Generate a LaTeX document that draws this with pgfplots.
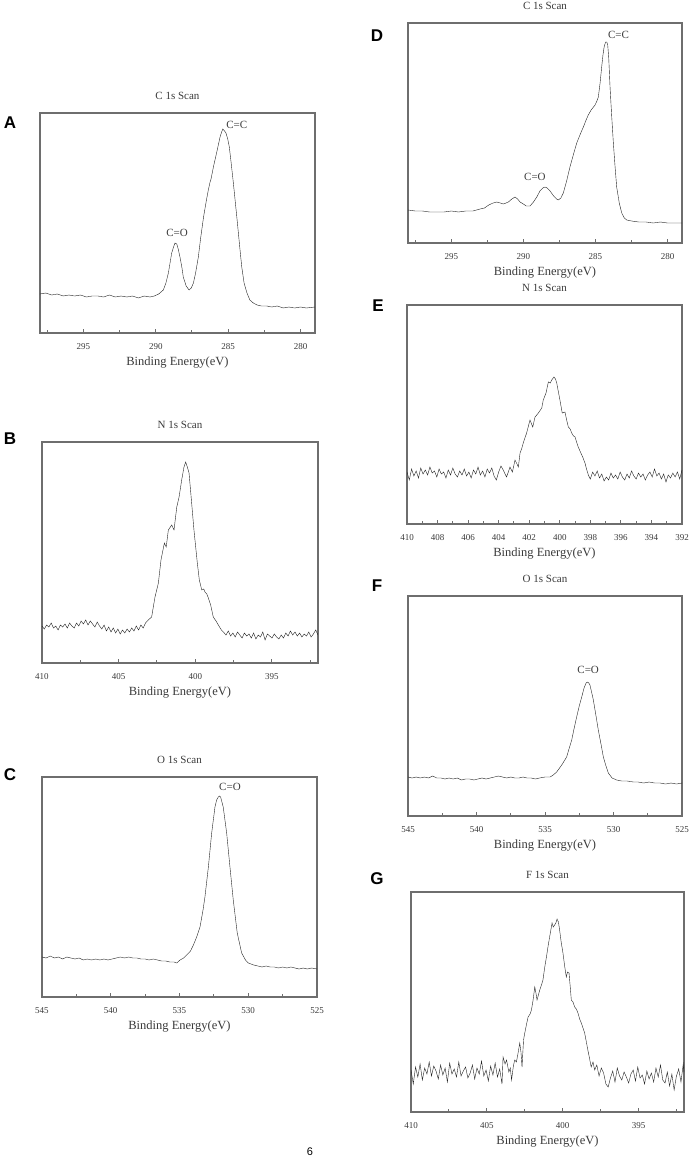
\documentclass[border=0pt]{standalone}
\usepackage{pgfplots}
\pgfplotsset{compat=1.18}
\usepackage{fontspec}
\setmainfont{Liberation Serif}
\newfontfamily\arial{Liberation Sans}
\definecolor{framegray}{HTML}{6E6E6E}
\definecolor{curve}{HTML}{222222}
\definecolor{textgray}{HTML}{3A3A3A}
\pgfplotsset{
  xps/.style={
    scale only axis, x dir=reverse, ymin=0, ytick=\empty,
    anchor=south west,
    axis line style={draw=framegray, line width=1.3pt},
    xtick pos=bottom, xtick align=inside,
    major tick length=4.5pt, minor tick length=3.5pt,
    every tick/.style={draw=framegray, line width=1pt},
    /pgf/number format/assume math mode=true,
    /pgf/number format/1000 sep={},
    tick label style={font=\fontsize{9}{10}\selectfont, text=textgray},
    xticklabel style={yshift=-7pt},
    xlabel={Binding Energy(eV)},
    xlabel style={font=\fontsize{12.5}{13}\selectfont, text=textgray, yshift=0pt},
    title style={font=\fontsize{11}{12}\selectfont, text=textgray, yshift=4pt},
    cycle list={{curve, line width=1.6pt, mark=none, line join=round}},
  },
  cscan/.style={xmin=279, xmax=298, xtick={280,285,290,295}, minor xtick={282.5,287.5,292.5,297.5}},
  nscan/.style={xmin=392, xmax=410, xtick={395,400,405,410}, minor xtick={392.5,397.5,402.5,407.5}},
  oscan/.style={xmin=525, xmax=545, xtick={525,530,535,540,545}, minor xtick={527.5,532.5,537.5,542.5}},
}
\newcommand{\lbl}[1]{\fontsize{11}{12}\selectfont\color{textgray}#1}
\begin{document}
\begin{tikzpicture}
\path[use as bounding box] (0,0) rectangle (692pt,-1159pt);
% ---------- A ----------
\begin{axis}[xps, cscan, at={(40pt,-333pt)}, width=275pt, height=220pt, ymax=220, title={C 1s Scan}]
\addplot coordinates {
(298.0,39) (297.6,40) (297.2,38) (296.8,39) (296.4,37) (296.0,38) (295.6,37) (295.2,38)
(294.8,36) (294.4,37) (294.0,37) (293.6,36) (293.2,38) (292.8,36) (292.4,37) (292.0,36)
(291.6,37) (291.2,35) (290.8,37) (290.4,36) (290.1,37) (289.8,39) (289.48,43) (289.3,50)
(289.13,60) (288.9,80) (288.75,87) (288.67,90) (288.55,89) (288.45,84) (288.33,76) (288.2,66)
(288.1,56) (287.9,47) (287.7,43) (287.55,45) (287.4,50) (287.25,60) (287.06,76) (286.9,95)
(286.7,116) (286.5,133) (286.37,143) (286.25,151) (286.2,153) (286.1,160) (286.02,166) (285.8,180)
(285.65,190) (285.56,196) (285.45,201) (285.37,204) (285.25,202) (285.15,200) (285.03,194) (284.92,186)
(284.8,171) (284.64,150) (284.5,130) (284.36,110) (284.2,86) (284.06,66) (283.9,50) (283.7,40)
(283.5,33) (283.26,30) (283.0,28) (282.7,27) (282.33,27) (282.0,26) (281.6,27) (281.2,25)
(280.8,26) (280.4,25) (280.0,26) (279.6,25) (279.0,26)
};
\node at (axis cs:288.53,100) {\lbl{C=O}};
\node at (axis cs:284.4,208) {\lbl{C=C}};
\end{axis}
% ---------- B ----------
\begin{axis}[xps, nscan, at={(42pt,-663pt)}, width=276pt, height=221pt, ymax=221, title={N 1s Scan}]
\addplot coordinates {
(410.00,37) (409.85,34) (409.70,38) (409.55,36) (409.40,40) (409.25,35) (409.10,37) (408.95,33)
(408.80,38) (408.65,36) (408.50,39) (408.35,35) (408.20,40) (408.05,37) (407.90,35) (407.75,40)
(407.60,37) (407.45,42) (407.30,39) (407.15,43) (407.00,38) (406.85,42) (406.70,39) (406.55,36)
(406.40,41) (406.25,37) (406.10,34) (405.95,38) (405.80,32) (405.65,36) (405.50,31) (405.35,35)
(405.20,30) (405.05,34) (404.90,29) (404.75,33) (404.60,30) (404.45,34) (404.30,31) (404.15,35)
(404.00,32) (403.85,37) (403.70,33) (403.55,38) (403.40,35) (403.25,40) (403.07,43) (402.85,46)
(402.63,66) (402.41,80) (402.24,103) (402.02,120) (401.90,116) (401.76,133) (401.54,138) (401.39,133)
(401.21,156) (401.06,166) (400.89,183) (400.74,196) (400.63,201) (400.52,196) (400.41,190) (400.24,160)
(400.09,133) (399.87,100) (399.74,83) (399.58,73) (399.45,74) (399.37,71) (399.25,69) (399.15,65)
(399.00,58) (398.83,46) (398.65,42) (398.50,38) (398.30,33) (398.17,31) (398.00,28) (397.85,32)
(397.70,27) (397.55,30) (397.40,26) (397.25,31) (397.10,28) (396.95,25) (396.80,30) (396.65,27)
(396.50,29) (396.35,25) (396.20,30) (396.05,24) (395.90,28) (395.75,26) (395.60,31) (395.45,23)
(395.30,29) (395.15,27) (395.00,25) (394.85,29) (394.70,26) (394.55,24) (394.40,28) (394.25,25)
(394.10,30) (393.95,27) (393.80,32) (393.65,28) (393.50,31) (393.35,27) (393.20,30) (393.05,26)
(392.90,29) (392.75,27) (392.60,31) (392.45,26) (392.30,29) (392.15,33) (392.00,28)
};
\end{axis}
% ---------- C ----------
\begin{axis}[xps, oscan, at={(42pt,-997pt)}, width=275pt, height=220pt, ymax=220, title={O 1s Scan}]
\addplot coordinates {
(545.0,40) (544.7,39) (544.4,41) (544.1,39) (543.8,40) (543.5,38) (543.2,40) (542.9,39)
(542.6,38) (542.3,39) (542.0,37) (541.7,38) (541.4,37) (541.1,38) (540.8,37) (540.5,38)
(540.2,37) (539.9,38) (539.6,39) (539.3,40) (539.0,39) (538.7,40) (538.4,39) (538.1,39)
(537.8,38) (537.5,38) (537.2,37) (536.9,38) (536.6,37) (536.3,36) (536.0,36) (535.7,35)
(535.4,35) (535.2,34) (534.96,37) (534.7,39) (534.48,42) (534.2,46) (533.99,52) (533.75,60)
(533.51,70) (533.3,86) (533.15,100) (532.9,130) (532.66,164) (532.42,190) (532.3,197) (532.18,200)
(532.1,201) (532.01,200) (531.82,190) (531.57,164) (531.33,130) (531.09,97) (530.8,64) (530.48,44)
(530.2,37) (530.0,34) (529.6,32) (529.3,31) (529.0,30) (528.7,31) (528.4,30) (528.1,30)
(527.8,29) (527.5,30) (527.2,29) (526.9,30) (526.6,29) (526.3,28) (526.0,29) (525.7,28)
(525.4,29) (525.0,28)
};
\node at (axis cs:531.33,210) {\lbl{C=O}};
\end{axis}
% ---------- D ----------
\begin{axis}[xps, cscan, at={(408pt,-243pt)}, width=274pt, height=220pt, ymax=220, title={C 1s Scan}]
\addplot coordinates {
(298.0,33) (297.5,32) (297.0,32) (296.5,31) (296.0,31) (295.5,31) (295.0,32) (294.5,31)
(294.0,32) (293.5,32) (293.0,34) (292.7,35) (292.4,38) (292.1,40) (291.85,41) (291.6,40)
(291.39,39) (291.2,40) (291.04,41) (290.8,44) (290.58,46) (290.4,44) (290.23,41) (290.0,39)
(289.8,37) (289.54,37) (289.3,41) (289.07,46) (288.85,52) (288.65,55) (288.5,56) (288.35,55)
(288.15,52) (287.9,47) (287.7,44) (287.58,43) (287.4,45) (287.23,50) (287.0,62) (286.77,76)
(286.5,90) (286.3,100) (286.05,109) (285.84,116) (285.65,123) (285.5,128) (285.3,133) (285.03,138)
(284.9,142) (284.8,146) (284.68,160) (284.57,176) (284.48,188) (284.4,196) (284.3,201) (284.22,201)
(284.15,198) (284.08,185) (283.99,156) (283.88,128) (283.76,100) (283.65,78) (283.53,56) (283.35,40)
(283.18,30) (283.0,25) (282.83,23) (282.5,22) (282.0,21) (281.5,21) (281.0,20) (280.5,21)
(280.0,20) (279.5,20) (279.0,20)
};
\node at (axis cs:289.2,66) {\lbl{C=O}};
\node at (axis cs:283.4,208) {\lbl{C=C}};
\end{axis}
% ---------- E ----------
\begin{axis}[xps, at={(407pt,-524pt)}, width=275pt, height=219pt, ymax=219, title={N 1s Scan},
  xmin=392, xmax=410, xtick={392,394,...,410}, minor xtick={393,395,...,409}]
\addplot coordinates {
(410.00,52) (409.85,44) (409.70,55) (409.55,48) (409.40,53) (409.25,46) (409.10,56) (408.95,50)
(408.80,54) (408.65,49) (408.50,57) (408.35,51) (408.20,53) (408.05,47) (407.90,55) (407.75,50)
(407.60,52) (407.45,46) (407.30,54) (407.15,49) (407.00,56) (406.85,50) (406.70,47) (406.55,53)
(406.40,49) (406.25,55) (406.10,48) (405.95,52) (405.80,46) (405.65,54) (405.50,50) (405.35,57)
(405.20,49) (405.05,53) (404.90,47) (404.75,55) (404.60,51) (404.45,56) (404.30,48) (404.15,44)
(404.00,52) (403.85,58) (403.70,54) (403.55,49) (403.48,47) (403.26,57) (403.10,52) (402.93,64)
(402.80,60) (402.71,57) (402.60,71) (402.50,75) (402.39,81) (402.17,91) (401.95,104) (401.77,97)
(401.62,107) (401.40,111) (401.18,116) (401.08,124) (400.90,131) (400.75,142) (400.62,141) (400.53,144)
(400.38,147) (400.28,145) (400.20,141) (399.99,124) (399.84,111) (399.66,112) (399.55,104) (399.44,97)
(399.32,95) (399.22,91) (399.10,88) (399.00,87) (398.90,82) (398.79,77) (398.65,72) (398.50,67)
(398.35,61) (398.25,55) (398.13,49) (398.00,45) (397.85,52) (397.70,48) (397.55,53) (397.40,46)
(397.25,50) (397.10,43) (396.95,47) (396.80,44) (396.65,51) (396.50,46) (396.35,49) (396.20,45)
(396.05,52) (395.90,47) (395.75,44) (395.60,50) (395.45,46) (395.30,53) (395.15,48) (395.00,45)
(394.85,51) (394.70,47) (394.55,50) (394.40,44) (394.25,49) (394.10,52) (393.95,47) (393.80,55)
(393.65,48) (393.50,51) (393.35,45) (393.20,50) (393.05,42) (392.90,49) (392.75,46) (392.60,51)
(392.45,47) (392.30,52) (392.15,45) (392.00,54)
};
\end{axis}
% ---------- F ----------
\begin{axis}[xps, oscan, at={(408pt,-816pt)}, width=274pt, height=220pt, ymax=220, title={O 1s Scan}]
\addplot coordinates {
(545.0,39) (544.7,38) (544.4,39) (544.1,38) (543.8,39) (543.5,38) (543.2,40) (542.9,38)
(542.6,38) (542.3,37) (542.0,38) (541.7,37) (541.4,38) (541.1,36) (540.8,37) (540.5,37)
(540.2,36) (539.9,37) (539.6,38) (539.3,37) (539.0,38) (538.7,39) (538.4,40) (538.1,39)
(537.8,38) (537.5,39) (537.2,38) (536.9,38) (536.6,39) (536.3,38) (536.0,38) (535.7,37)
(535.4,38) (535.0,39) (534.63,39) (534.4,41) (534.15,44) (533.78,51) (533.6,55) (533.42,59)
(533.25,67) (533.05,76) (532.9,86) (532.69,99) (532.5,110) (532.32,119) (532.15,128) (532.0,133)
(531.91,134) (531.8,133) (531.72,131) (531.6,124) (531.47,116) (531.3,102) (531.11,86) (530.9,71)
(530.74,59) (530.55,50) (530.38,43) (530.1,38) (529.77,36) (529.4,35) (529.0,35) (528.55,34)
(528.2,34) (527.8,33) (527.4,34) (527.0,33) (526.6,33) (526.2,32) (525.8,33) (525.4,32)
(525.0,33)
};
\node at (axis cs:531.85,146) {\lbl{C=O}};
\end{axis}
% ---------- G ----------
\begin{axis}[xps, nscan, at={(411pt,-1112pt)}, width=273pt, height=220pt, ymax=220, title={F 1s Scan}]
\addplot coordinates {
(410.00,42) (409.85,28) (409.70,45) (409.55,35) (409.40,48) (409.25,32) (409.10,44) (408.95,38)
(408.80,50) (408.65,36) (408.50,46) (408.35,41) (408.20,33) (408.05,47) (407.90,37) (407.75,44)
(407.60,30) (407.45,49) (407.30,38) (407.15,43) (407.00,35) (406.85,50) (406.70,36) (406.55,41)
(406.40,45) (406.25,34) (406.10,39) (405.95,47) (405.80,33) (405.65,44) (405.50,38) (405.35,51)
(405.20,36) (405.05,42) (404.90,31) (404.75,46) (404.60,37) (404.45,49) (404.30,35) (404.15,43)
(404.00,28) (403.93,55) (403.80,48) (403.70,52) (403.55,40) (403.45,44) (403.37,32) (403.25,46)
(403.16,52) (403.05,50) (402.94,59) (402.83,69) (402.75,60) (402.68,45) (402.58,72) (402.50,79)
(402.38,88) (402.28,95) (402.15,98) (402.06,102) (401.95,112) (401.84,125) (401.75,118) (401.69,112)
(401.60,117) (401.51,122) (401.40,127) (401.30,132) (401.18,145) (401.07,155) (400.96,166) (400.86,175)
(400.78,182) (400.70,189) (400.62,185) (400.53,187) (400.45,189) (400.37,193) (400.28,190) (400.20,182)
(400.10,170) (399.98,159) (399.87,146) (399.76,135) (399.68,140) (399.58,139) (399.50,125) (399.43,112)
(399.32,110) (399.21,105) (399.10,103) (398.99,99) (398.88,93) (398.77,89) (398.66,84) (398.55,79)
(398.45,71) (398.34,62) (398.22,53) (398.12,45) (398.00,50) (397.89,42) (397.75,47) (397.60,36)
(397.45,44) (397.30,39) (397.15,28) (397.00,25) (396.85,34) (396.70,41) (396.55,30) (396.40,44)
(396.25,36) (396.10,32) (395.95,40) (395.80,35) (395.65,29) (395.50,38) (395.35,42) (395.20,31)
(395.05,45) (394.90,34) (394.75,37) (394.60,28) (394.45,41) (394.30,33) (394.15,39) (394.00,30)
(393.85,44) (393.70,35) (393.55,47) (393.40,32) (393.25,29) (393.10,40) (392.95,26) (392.80,38)
(392.65,22) (392.50,36) (392.35,43) (392.20,30) (392.05,48) (392.00,40)
};
\end{axis}
% ---------- panel letters ----------
\begin{scope}[every node/.style={font=\arial\bfseries\fontsize{17}{18}\selectfont, inner sep=0pt}]
\node at (10pt,-123pt) {A};
\node at (10pt,-439pt) {B};
\node at (10pt,-775pt) {C};
\node at (377pt,-36pt) {D};
\node at (378pt,-306pt) {E};
\node at (377pt,-586pt) {F};
\node at (377pt,-879pt) {G};
\end{scope}
\node[font=\arial\fontsize{11}{12}\selectfont, inner sep=0pt] at (310pt,-1152pt) {6};
\end{tikzpicture}
\end{document}
